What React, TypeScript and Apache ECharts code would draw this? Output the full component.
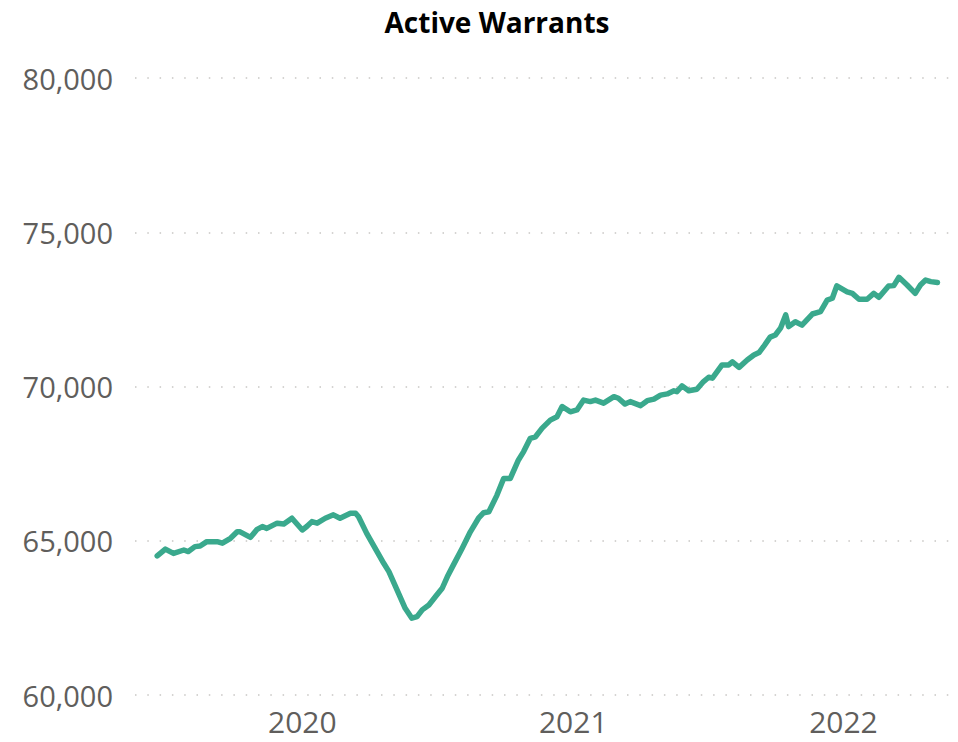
import React, { useEffect, useRef } from "react";
import * as echarts from "echarts";

const dates: string[] = [
  "2019-06-19", "2019-06-30", "2019-07-11", "2019-07-25", "2019-07-31", "2019-08-09", "2019-08-16", "2019-08-25",
  "2019-09-08", "2019-09-15", "2019-09-26", "2019-10-05", "2019-10-09", "2019-10-23", "2019-11-01", "2019-11-08",
  "2019-11-14", "2019-11-28", "2019-12-07", "2019-12-18", "2020-01-01", "2020-01-07", "2020-01-14", "2020-01-21",
  "2020-02-01", "2020-02-12", "2020-02-21", "2020-03-06", "2020-03-13", "2020-03-17", "2020-03-28", "2020-04-06",
  "2020-04-20", "2020-04-27", "2020-05-06", "2020-05-19", "2020-05-28", "2020-06-04", "2020-06-11", "2020-06-20",
  "2020-06-29", "2020-07-08", "2020-07-15", "2020-07-23", "2020-08-04", "2020-08-15", "2020-08-26", "2020-09-02",
  "2020-09-09", "2020-09-20", "2020-09-29", "2020-10-08", "2020-10-19", "2020-10-26", "2020-11-04", "2020-11-11",
  "2020-11-20", "2020-12-01", "2020-12-10", "2020-12-17", "2020-12-28", "2021-01-06", "2021-01-15", "2021-01-24",
  "2021-01-31", "2021-02-11", "2021-02-25", "2021-03-03", "2021-03-12", "2021-03-19", "2021-04-02", "2021-04-11",
  "2021-04-20", "2021-04-29", "2021-05-08", "2021-05-17", "2021-05-21", "2021-05-28", "2021-06-06", "2021-06-17",
  "2021-06-26", "2021-07-03", "2021-07-08", "2021-07-21", "2021-07-30", "2021-08-04", "2021-08-13", "2021-08-24",
  "2021-09-02", "2021-09-09", "2021-09-15", "2021-09-24", "2021-10-01", "2021-10-08", "2021-10-15", "2021-10-19",
  "2021-10-28", "2021-11-06", "2021-11-20", "2021-12-01", "2021-12-10", "2021-12-17", "2021-12-23", "2022-01-06",
  "2022-01-13", "2022-01-22", "2022-02-02", "2022-02-11", "2022-02-18", "2022-03-03", "2022-03-10", "2022-03-17",
  "2022-03-28", "2022-04-08", "2022-04-15", "2022-04-22", "2022-04-29", "2022-05-08",
];

const activeWarrants: number[] = [
  64510, 64730, 64590, 64700, 64650, 64810, 64830, 64970,
  64970, 64920, 65080, 65290, 65290, 65110, 65370, 65460,
  65400, 65570, 65540, 65730, 65350, 65460, 65620, 65570,
  65730, 65840, 65730, 65890, 65890, 65780, 65240, 64860,
  64270, 64000, 63510, 62810, 62490, 62540, 62760, 62920,
  63190, 63460, 63840, 64210, 64760, 65290, 65730, 65910,
  65940, 66480, 67020, 67020, 67620, 67890, 68320, 68370,
  68650, 68910, 69020, 69350, 69180, 69240, 69560, 69510,
  69560, 69460, 69670, 69620, 69430, 69510, 69380, 69540,
  69590, 69720, 69760, 69860, 69830, 70020, 69860, 69910,
  70160, 70300, 70270, 70700, 70700, 70800, 70620, 70860,
  71020, 71100, 71290, 71600, 71670, 71890, 72320, 71940,
  72100, 71990, 72350, 72430, 72800, 72860, 73260, 73070,
  73020, 72830, 72830, 73020, 72890, 73260, 73270, 73540,
  73290, 73020, 73290, 73450, 73400, 73370,
];

const yearTicks: string[] = ["2020-01-01", "2021-01-01", "2022-01-01"];
const xRange: string[] = ["2019-05-20", "2022-05-29"];

const yMin = 60000;
const yMax = 80000;
const yStep = 5000;

const FONT = "'Open Sans', 'Noto Sans', sans-serif";

export default function App() {
  const ref = useRef<HTMLDivElement>(null);

  useEffect(() => {
    if (!ref.current) return;
    const chart = echarts.init(ref.current, undefined, { renderer: "svg" });
    const toTs = (s: string) => new Date(s + "T00:00:00Z").getTime();
    const data = dates.map((d, i) => [toTs(d), activeWarrants[i]]);

    chart.setOption({
      animation: false,
      backgroundColor: "#ffffff",
      title: {
        text: "Active Warrants",
        left: 492,
        top: 3,
        textAlign: "center",
        textStyle: {
          fontFamily: FONT,
          fontWeight: "bold",
          fontSize: 28,
          color: "#000000",
        },
      },
      grid: {
        left: 135,
        right: 5,
        top: 78,
        bottom: 47,
        containLabel: false,
      },
      xAxis: {
        type: "value",
        min: toTs(xRange[0]),
        max: toTs(xRange[1]),
        axisLine: { show: false },
        axisTick: { show: false },
        splitLine: { show: false },
        axisLabel: {
          customValues: yearTicks.map(toTs),
          formatter: (v: number) => String(new Date(v).getUTCFullYear()),
          fontFamily: FONT,
          fontSize: 30,
          color: "#605e5c",
          margin: 11,
          hideOverlap: false,
        },
      },
      yAxis: {
        type: "value",
        min: yMin,
        max: yMax,
        interval: yStep,
        axisLine: { show: false },
        axisTick: { show: false },
        axisLabel: {
          formatter: (v: number) => v.toLocaleString("en-US"),
          fontFamily: FONT,
          fontSize: 29,
          color: "#605e5c",
          margin: 22,
        },
        splitLine: {
          show: true,
          lineStyle: { color: "#c8c6c4", width: 1.5, type: [1.5, 10.8] },
        },
      },
      series: [
        {
          type: "line",
          data,
          showSymbol: false,
          symbol: "none",
          lineStyle: { color: "#3aa98d", width: 5.5, join: "round", cap: "round" },
          itemStyle: { color: "#3aa98d" },
        },
      ],
    });

    return () => chart.dispose();
  }, []);

  return (
    <div
      ref={ref}
      style={{ position: "fixed", left: 0, top: 0, width: 958, height: 742 }}
    />
  );
}
